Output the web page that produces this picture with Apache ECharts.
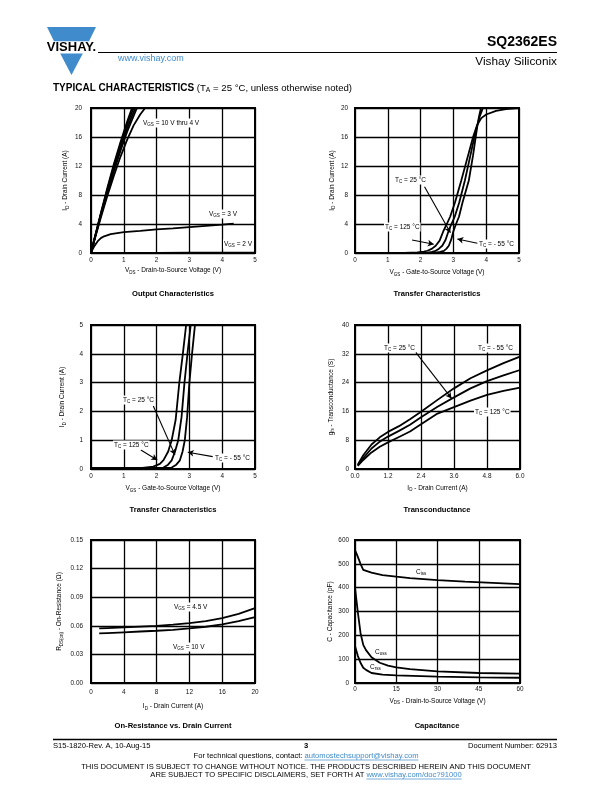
<!DOCTYPE html>
<html><head><meta charset="utf-8">
<script src="https://cdn.jsdelivr.net/npm/echarts@6.0.0/dist/echarts.min.js"></script>
<style>html,body{margin:0;padding:0;background:#fff}#c{width:612px;height:792px}</style>
</head><body><div id="c"></div>
<script>
// ---------- DATA ----------
// Output characteristics: [VDS, ID]
const out10V = [[0,0],[0.1,1.9],[0.3,5.5],[0.5,9],[0.7,12.3],[0.9,15.3],[1.1,18.1],[1.25,20]];
const out8V  = [[0,0],[0.1,1.85],[0.3,5.4],[0.5,8.8],[0.7,12],[0.9,15],[1.1,17.7],[1.3,20]];
const out6V  = [[0,0],[0.1,1.8],[0.3,5.3],[0.5,8.6],[0.7,11.7],[0.9,14.6],[1.1,17.2],[1.35,20]];
const out5V  = [[0,0],[0.1,1.75],[0.3,5.1],[0.5,8.3],[0.7,11.3],[0.9,14.1],[1.1,16.7],[1.4,20]];
const out4V  = [[0,0],[0.1,1.7],[0.3,4.9],[0.5,7.9],[0.7,10.7],[0.9,13.3],[1.1,15.6],[1.3,17.6],[1.5,19.1],[1.65,20]];
const out3V  = [[0,0],[0.05,0.5],[0.1,0.95],[0.2,1.6],[0.3,2.05],[0.4,2.3],[0.6,2.6],[0.8,2.75],[1,2.87],[1.5,3.05],[2,3.25],[2.5,3.4],[3,3.58],[3.5,3.75],[4,3.92],[4.35,4.05]];
const out2V  = [[0,0],[1,0.03],[2,0.03],[3,0.04],[4,0.04],[5,0.05]];
// Transfer characteristics: [VGS, ID]
const tr125 = [[0,0.03],[1.5,0.03],[1.9,0.08],[2.1,0.18],[2.21,0.31],[2.35,0.6],[2.46,1.0],[2.58,1.7],[2.69,2.97],[2.8,4.0],[2.9,5.0],[3.05,7.0],[3.24,10],[3.45,13.5],[3.6,16],[3.72,17.6],[3.85,18.6],[4.0,19.1],[4.3,19.6],[4.6,19.85],[5,20]];
const tr25  = [[0,0.03],[1.8,0.03],[2.21,0.05],[2.35,0.15],[2.46,0.3],[2.56,0.6],[2.66,1.0],[2.76,1.8],[2.85,3.0],[2.95,4.1],[3.04,5.0],[3.18,7.0],[3.35,10],[3.52,13.5],[3.64,16],[3.72,17.5],[3.8,18.8],[3.9,20],[3.95,20.6]];
const trM55 = [[0,0.03],[2.1,0.03],[2.46,0.05],[2.6,0.15],[2.71,0.3],[2.79,0.6],[2.86,1.0],[2.93,1.8],[3.0,3.0],[3.08,4.0],[3.17,5.0],[3.28,7.0],[3.47,10],[3.6,13.5],[3.68,16],[3.73,17.5],[3.78,18.8],[3.84,20],[3.88,20.6]];
// Transconductance: [ID, gfs]
const gfsM55 = [[0.1,1.2],[0.3,3.8],[0.6,6.8],[0.9,8.8],[1.2,10.3],[1.6,11.9],[2.0,13.8],[2.4,15.9],[3.0,19.2],[3.6,22.4],[4.2,25.2],[4.8,27.4],[5.4,29.4],[6.0,31.2]];
const gfs25  = [[0.1,1.0],[0.3,3.0],[0.6,5.7],[0.9,7.6],[1.2,9.0],[1.6,10.6],[2.0,12.3],[2.4,14.4],[3.0,17.3],[3.6,19.9],[4.2,22.4],[4.8,24.4],[5.4,26.0],[6.0,27.5]];
const gfs125 = [[0.1,0.9],[0.3,2.5],[0.6,4.6],[0.9,6.2],[1.2,7.4],[1.6,8.9],[2.0,10.4],[2.4,12.4],[3.0,15.4],[3.6,17.2],[4.2,19.0],[4.8,20.6],[5.4,21.7],[6.0,22.6]];
// On-resistance: [ID, RDS(on)]
const rds45 = [[1,0.0572],[2,0.0576],[4,0.0584],[6,0.0592],[8,0.0600],[10,0.0612],[12,0.0628],[14,0.0648],[16,0.0680],[18,0.0725],[20,0.0785]];
const rds10 = [[1,0.0520],[2,0.0524],[4,0.0532],[6,0.0540],[8,0.0548],[10,0.0558],[12,0.0572],[14,0.0590],[16,0.0614],[18,0.0648],[20,0.0692]];
// Capacitance: [VDS, C]
const cIss = [[0,558],[1,530],[2,500],[3,475],[6,463],[10,453],[15,446],[20,440],[30,432],[40,425],[50,420],[60,415]];
const cOss = [[0,400],[1,300],[2,210],[3,160],[4,138],[6,108],[9,85],[12,73],[15,66],[20,58],[30,49],[45,42],[60,39]];
const cRss = [[0,155],[1,115],[2,85],[3,64],[4,55],[6,42],[10,35],[15,32],[30,27],[45,24],[60,22]];
// Annotation arrows (data coordinates)
const arrowsT1 = [[[2.12,9.15],[2.91,2.8]], [[1.74,1.8],[2.40,1.2]], [[3.73,1.34],[3.12,1.93]]];
const arrowsT2 = [[[1.9,2.19],[2.56,0.49]], [[1.52,0.66],[2.02,0.31]], [[3.71,0.43],[2.95,0.58]]];
const arrowsG  = [[[2.21,32.4],[3.51,19.6]]];

// ---------- STYLE ----------
const FF = 'Liberation Sans, Arial, Helvetica, sans-serif';
const RICH = {
  n:{fontSize:6.5, fontFamily:FF, color:'#000', fill:'#000', lineHeight:9},
  s:{fontSize:4.5, fontFamily:FF, color:'#000', fill:'#000', lineHeight:5, verticalAlign:'bottom'}
};
const S = (a,b,c) => `{n|${a}}{s|${b}}{n|${c}}`;

const grids = [
  {left:91, top:108, width:164, height:145},
  {left:355, top:108, width:164, height:145},
  {left:91, top:325, width:164, height:144},
  {left:355, top:325, width:165, height:144},
  {left:91, top:540, width:164, height:143},
  {left:355, top:540, width:165, height:143}
].map(g => Object.assign({show:true, borderColor:'#000', borderWidth:2, backgroundColor:'rgba(0,0,0,0)'}, g));

function ax(gi, min, max, interval, name, nameGap, margin, fmt) {
  return {
    type:'value', gridIndex:gi, min, max, interval,
    name, nameLocation:'middle', nameGap,
    nameTextStyle:{rich:RICH, fontSize:6.5, fontFamily:FF, color:'#000'},
    axisLine:{show:false}, axisTick:{show:false},
    splitLine:{show:true, lineStyle:{color:'#000', width:1.3}},
    axisLabel:{fontSize:6.4, fontFamily:FF, color:'#111', margin, formatter: fmt || (v => String(v))}
  };
}

const xAxes = [
  ax(0,0,5,1, S('V','DS',' - Drain-to-Source Voltage (V)'), 13, 4),
  ax(1,0,5,1, S('V','GS',' - Gate-to-Source Voltage (V)'), 15, 4),
  ax(2,0,5,1, S('V','GS',' - Gate-to-Source Voltage (V)'), 15, 4),
  ax(3,0,6,1.2, S('I','D',' - Drain Current (A)'), 14.5, 4, v => v.toFixed(1)),
  ax(4,0,20,4, S('I','D',' - Drain Current (A)'), 19, 6),
  ax(5,0,60,15, S('V','DS',' - Drain-to-Source Voltage (V)'), 13.5, 3)
];
const yAxes = [
  ax(0,0,20,4, S('I','D',' - Drain Current (A)'), 21, 9),
  ax(1,0,20,4, S('I','D',' - Drain Current (A)'), 18.5, 7),
  ax(2,0,5,1, S('I','D',' - Drain Current (A)'), 24, 8),
  ax(3,0,40,8, S('g','fs',' - Transconductance (S)'), 19.5, 6),
  ax(4,0,0.15,0.03, S('R','DS(on)',' - On-Resistance (Ω)'), 27, 8, v => v.toFixed(2)),
  ax(5,0,600,100, S('C','',' - Capacitance (pF)'), 18.5, 6)
];

function line(gi, data, extra) {
  return Object.assign({
    type:'line', xAxisIndex:gi, yAxisIndex:gi, data, showSymbol:false, symbol:'none',
    lineStyle:{color:'#000', width:1.8}, clip:true, silent:true, animation:false, z:3
  }, extra || {});
}
function arrows(list) {
  return {
    silent:true, symbol:['none','arrow'], symbolSize:[5,6], animation:false,
    lineStyle:{color:'#000', width:1.1, type:'solid'}, label:{show:false},
    data: list.map(a => [{coord:a[0]},{coord:a[1]}])
  };
}

const series = [
  line(0,out10V), line(0,out8V), line(0,out6V), line(0,out5V), line(0,out4V), line(0,out3V), line(0,out2V),
  line(1,tr125,{markLine:arrows(arrowsT1)}), line(1,tr25), line(1,trM55),
  line(2,tr125,{markLine:arrows(arrowsT2)}), line(2,tr25), line(2,trM55),
  line(3,gfsM55,{markLine:arrows(arrowsG)}), line(3,gfs25), line(3,gfs125),
  line(4,rds45), line(4,rds10),
  line(5,cIss), line(5,cOss), line(5,cRss)
];

// ---------- TEXT ----------
const mctx = document.createElement('canvas').getContext('2d');
function tw(t, size) { mctx.font = size + 'px ' + FF; return mctx.measureText(t).width; }

function txt(x, y, text, opt) {
  return {type:'text', x, y, z:10, silent:true, style:Object.assign({
    text, rich:RICH, fontSize:6.5, fontFamily:FF, fill:'#000',
    textAlign:'left', textVerticalAlign:'middle'
  }, opt || {})};
}
const WB = {backgroundColor:'#fff', padding:[0,1]};
const title = (x,y,t) => txt(x,y,t,{textAlign:'center', fontSize:7.6, fontWeight:'bold', rich:null});
const hline = (x1,x2,y,w,c) => ({type:'line', silent:true, z:10, shape:{x1, y1:y, x2, y2:y}, style:{stroke:c||'#000', lineWidth:w}});

const BLUE = '#3f8bcb';
const FS = 7.6;
const q1 = 'For technical questions, contact: ', l1 = 'automostechsupport@vishay.com';
const q2 = 'ARE SUBJECT TO SPECIFIC DISCLAIMERS, SET FORTH AT ', l2 = 'www.vishay.com/doc?91000';
const w1a = tw(q1,FS), w1b = tw(l1,FS), w2a = tw(q2,FS), w2b = tw(l2,FS);
const s1 = 306 - (w1a+w1b)/2 + w1a, s2 = 306 - (w2a+w2b)/2 + w2a;

const graphic = [
  // logo
  {type:'polygon', silent:true, shape:{points:[[47,27],[96,27],[89,41.3],[54,41.3]]}, style:{fill:BLUE}},
  {type:'polygon', silent:true, shape:{points:[[60.2,53.5],[82.8,53.5],[71.5,75]]}, style:{fill:BLUE}},
  txt(71.5,47.6,'VISHAY.',{textAlign:'center', fontSize:13, fontWeight:'bold', rich:null}),
  hline(98,557,52.5,1.2),
  txt(557,42,'SQ2362ES',{textAlign:'right', fontSize:14, fontWeight:'bold', rich:null}),
  txt(557,62,'Vishay Siliconix',{textAlign:'right', fontSize:11.8, rich:null}),
  txt(118,59,'www.vishay.com',{fontSize:9, fill:BLUE, rich:null}),
  txt(53,88,'{b|TYPICAL CHARACTERISTICS}{r| (T}{t|A}{r| = 25 °C, unless otherwise noted)}',{rich:{
    b:{fontSize:10, fontWeight:'bold', fontFamily:FF, fill:'#000', lineHeight:12},
    r:{fontSize:9.6, fontFamily:FF, fill:'#000', lineHeight:12},
    t:{fontSize:6.8, fontFamily:FF, fill:'#000', lineHeight:7, verticalAlign:'bottom'}
  }}),
  // chart titles
  title(173,294,'Output Characteristics'),
  title(437,294,'Transfer Characteristics'),
  title(173,510,'Transfer Characteristics'),
  title(437,510,'Transconductance'),
  title(173,726,'On-Resistance vs. Drain Current'),
  title(437,726,'Capacitance'),
  // chart 1 labels
  txt(142,123,S('V','GS',' = 10 V thru 4 V'),WB),
  txt(208,214,S('V','GS',' = 3 V'),WB),
  txt(223,244,S('V','GS',' = 2 V'),WB),
  // chart 2 labels
  txt(394,180,S('T','C',' = 25 °C'),WB),
  txt(384,227,S('T','C',' = 125 °C'),WB),
  txt(478,244,S('T','C',' = - 55 °C'),WB),
  // chart 3 labels
  txt(122,400,S('T','C',' = 25 °C'),WB),
  txt(113,445,S('T','C',' = 125 °C'),WB),
  txt(214,458,S('T','C',' = - 55 °C'),WB),
  // chart 4 labels
  txt(383,348,S('T','C',' = 25 °C'),WB),
  txt(477,348,S('T','C',' = - 55 °C'),WB),
  txt(474,412,S('T','C',' = 125 °C'),WB),
  // chart 5 labels
  txt(173,607,S('V','GS',' = 4.5 V'),WB),
  txt(172,647,S('V','GS',' = 10 V'),WB),
  // chart 6 labels
  txt(416,572,S('C','iss','')),
  txt(375,652,S('C','oss','')),
  txt(370,667,S('C','rss','')),
  // footer
  hline(53,557,739.5,1.5),
  txt(53,746,'S15-1820-Rev. A, 10-Aug-15',{fontSize:FS, rich:null}),
  txt(306,746,'3',{textAlign:'center', fontSize:FS, fontWeight:'bold', rich:null}),
  txt(557,746,'Document Number: 62913',{textAlign:'right', fontSize:FS, rich:null}),
  txt(306,756,'{r|' + q1 + '}{l|' + l1 + '}',{textAlign:'center', rich:{
    r:{fontSize:FS, fontFamily:FF, fill:'#000'}, l:{fontSize:FS, fontFamily:FF, fill:BLUE}
  }}),
  hline(s1, s1+w1b, 760, 0.7, BLUE),
  txt(306,766.5,'THIS DOCUMENT IS SUBJECT TO CHANGE WITHOUT NOTICE. THE PRODUCTS DESCRIBED HEREIN AND THIS DOCUMENT',{textAlign:'center', fontSize:FS, rich:null}),
  txt(306,775,'{r|' + q2 + '}{l|' + l2 + '}',{textAlign:'center', rich:{
    r:{fontSize:FS, fontFamily:FF, fill:'#000'}, l:{fontSize:FS, fontFamily:FF, fill:BLUE}
  }}),
  hline(s2, s2+w2b, 779, 0.7, BLUE)
];

const chart = echarts.init(document.getElementById('c'), null, {renderer:'canvas', width:612, height:792});
chart.setOption({
  animation:false,
  backgroundColor:'#fff',
  grid:grids, xAxis:xAxes, yAxis:yAxes, series, graphic
});
</script></body></html>
